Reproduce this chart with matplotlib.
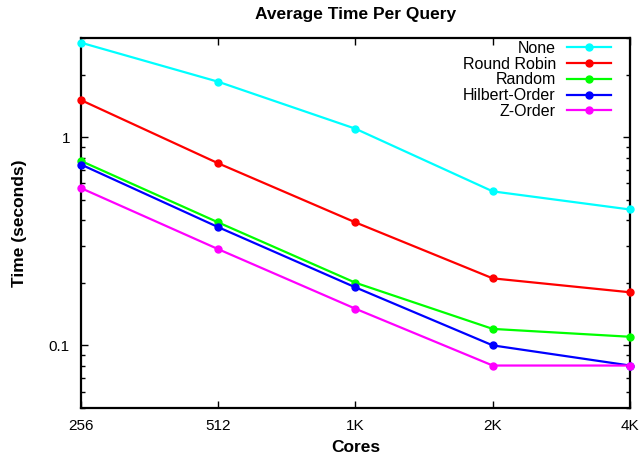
import matplotlib
matplotlib.use("Agg")
import matplotlib.pyplot as plt
from matplotlib.ticker import FixedLocator, NullFormatter, FixedFormatter

plt.rcParams['font.family'] = ['Liberation Sans', 'DejaVu Sans']

cores = ["256", "512", "1K", "2K", "4K"]
series_names = ["None", "Round Robin", "Random", "Hilbert-Order", "Z-Order"]
none_vals = [2.85, 1.85, 1.1, 0.55, 0.45]
rr_vals = [1.51, 0.75, 0.39, 0.21, 0.18]
random_vals = [0.77, 0.39, 0.20, 0.12, 0.11]
hilbert_vals = [0.74, 0.37, 0.19, 0.10, 0.08]
zorder_vals = [0.57, 0.29, 0.15, 0.08, 0.08]
colors = ["#00ffff", "#ff0000", "#00ff00", "#0000ff", "#ff00ff"]

fig = plt.figure(figsize=(6.39, 4.55), dpi=100)
ax = fig.add_axes([0.1268, 0.1033, 0.859, 0.813])

x = list(range(len(cores)))
for name, vals, c in zip(series_names, [none_vals, rr_vals, random_vals, hilbert_vals, zorder_vals], colors):
    ax.plot(x, vals, color=c, lw=1.6, marker='o', markersize=5, label=name, clip_on=False, zorder=3)

ax.set_yscale('log')
ax.set_ylim(0.05, 3)
ax.set_xlim(0, 4)
ax.set_xticks(x)
ax.set_xticklabels(cores)
ax.yaxis.set_major_locator(FixedLocator([0.1, 1]))
ax.yaxis.set_major_formatter(FixedFormatter(["0.1", "1"]))
ax.yaxis.set_minor_locator(FixedLocator([0.05, 0.06, 0.07, 0.08, 0.09, 0.2, 0.3, 0.4, 0.5, 0.6, 0.7, 0.8, 0.9, 2, 3]))
ax.yaxis.set_minor_formatter(NullFormatter())

ax.tick_params(axis='both', which='both', direction='in', top=True, right=True, labelsize=11)
ax.tick_params(axis='y', which='major', pad=8)
ax.tick_params(axis='x', which='major', pad=8)
ax.tick_params(which='major', length=5, width=1)
ax.tick_params(which='minor', length=3, width=1)
for s in ax.spines.values():
    s.set_linewidth(1.6)

ax.set_title("Average Time Per Query", fontsize=12.5, fontweight='bold', pad=14)
ax.set_xlabel("Cores", fontsize=12.5, fontweight='bold', labelpad=5)
ax.set_ylabel("Time (seconds)", fontsize=12.5, fontweight='bold', labelpad=16)

leg = ax.legend(loc='upper right', markerfirst=False, frameon=False, fontsize=11.5,
                handlelength=2.75, labelspacing=0.05, borderaxespad=0.0,
                handletextpad=0.7, bbox_to_anchor=(0.977, 1.01))
for t in leg.get_texts():
    t.set_ha('right')

fig.savefig("out.png", dpi=100)
